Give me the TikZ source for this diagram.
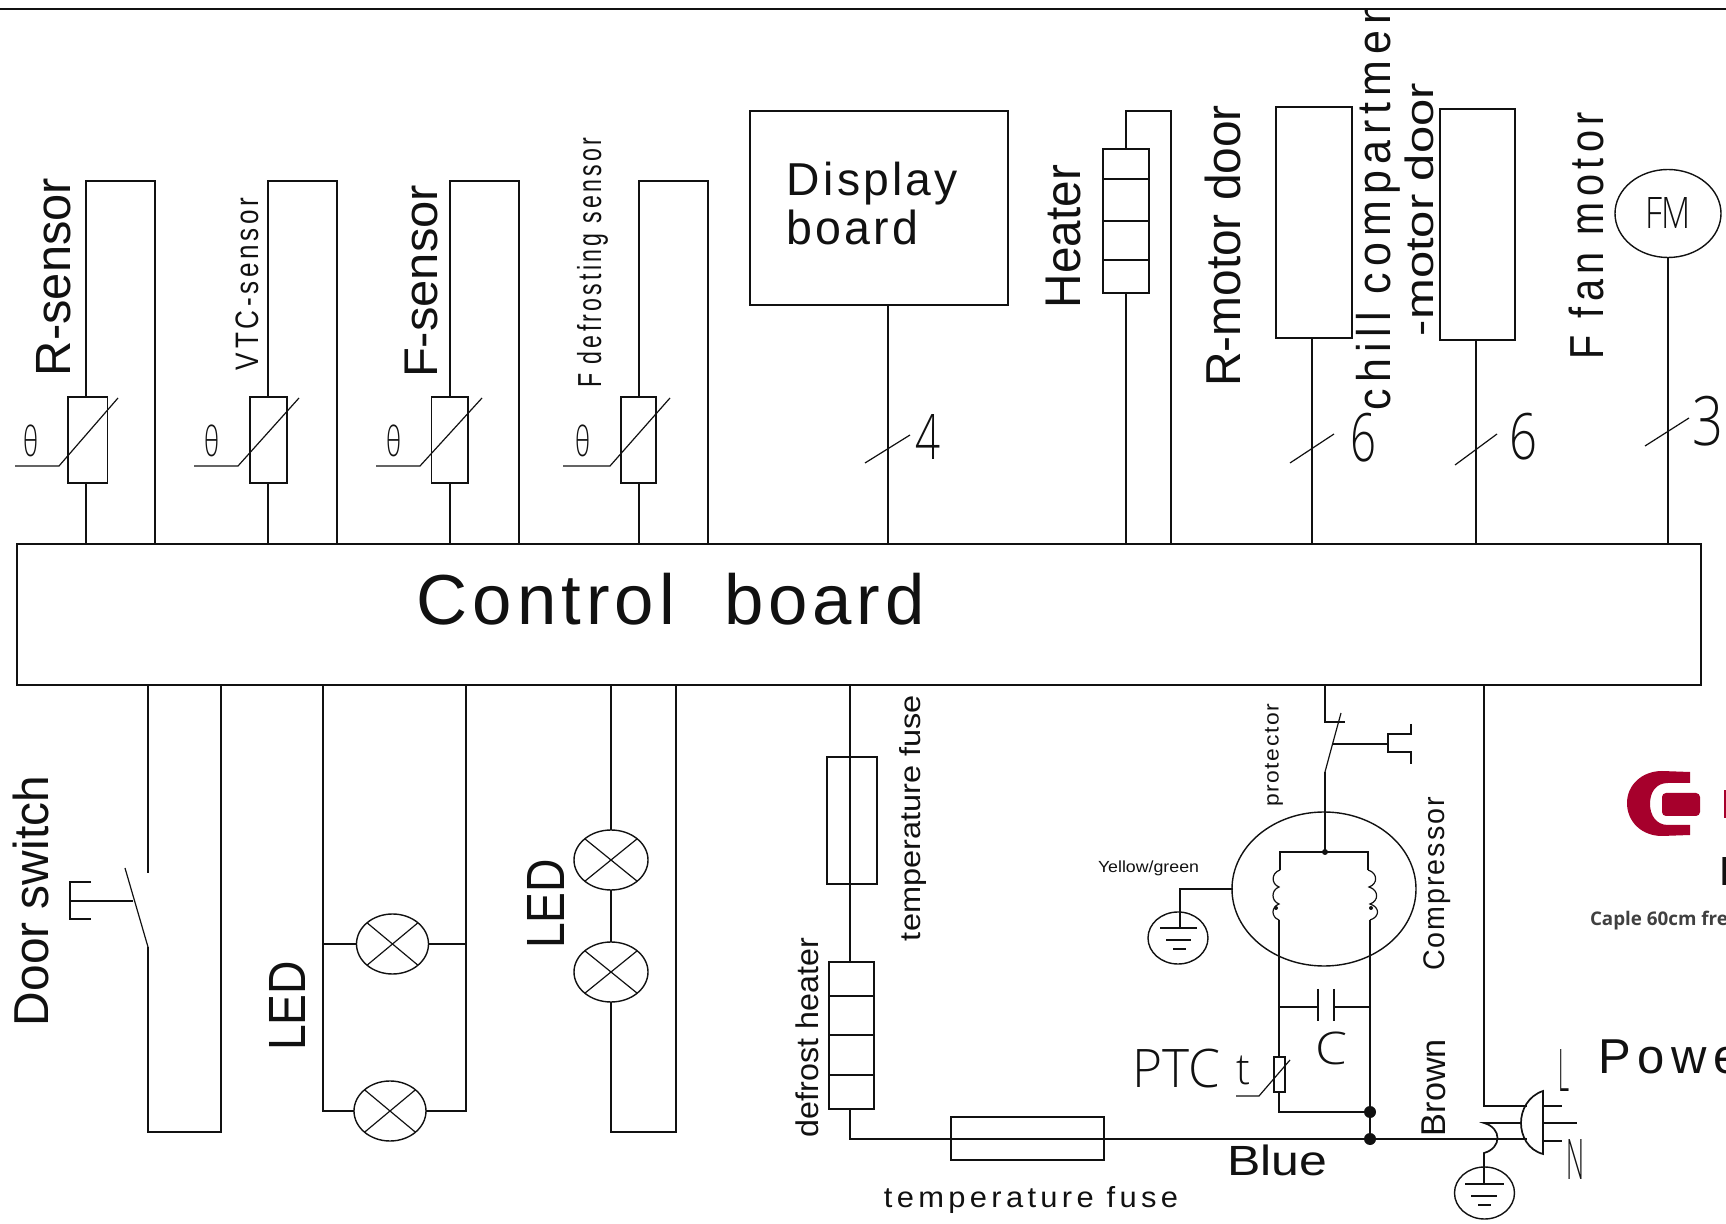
\documentclass[tikz,border=0pt]{standalone}
\usepackage{fontspec}
\usepackage{graphicx}
\usetikzlibrary{shapes.geometric}
\setmainfont{Liberation Sans}
\newfontfamily\widef[LetterSpace=14]{Liberation Sans}
\newfontfamily\medf[LetterSpace=7]{Liberation Sans}
\newfontfamily\thinf{Open Sans Light}
\newfontfamily\capf{Open Sans}
\newdimen\pxu \pxu=0.5pt
\definecolor{logored}{HTML}{A6002C}
\definecolor{ink}{HTML}{111111}
\newcommand\fit[3]{\resizebox*{#1\pxu}{#2\pxu}{#3}}
\newcommand\rectnode[5]{%
  \pgfmathsetmacro\bw{#4-#2}\pgfmathsetmacro\bh{#5-#3}%
  \pgfmathsetmacro\bx{(#2+#4)/2}\pgfmathsetmacro\by{(#3+#5)/2}%
  \node[partbox,minimum width=\bw\pxu,minimum height=\bh\pxu] (#1) at (\bx,\by) {};}
\tikzset{
  wire/.style={line width=0.85pt,draw=ink,line join=miter},
  fine/.style={line width=0.6pt,draw=ink},
  partbox/.style={draw=ink,line width=0.85pt,inner sep=0pt,outer sep=0pt,rectangle},
  lamp/.style={draw=ink,line width=0.7pt,ellipse,inner sep=0pt,outer sep=0pt,minimum width=72\pxu,minimum height=60\pxu},
  gnd/.style={draw=ink,line width=0.7pt,ellipse,inner sep=0pt,outer sep=0pt,minimum width=60\pxu,minimum height=52\pxu},
  lab/.style={inner sep=0pt,outer sep=0pt,text=ink},
  vlab/.style={lab,rotate=90},
  blob/.style={circle,fill=ink,inner sep=0pt,outer sep=0pt,minimum size=12\pxu},
}
\begin{document}
\begin{tikzpicture}[x=0.5pt,y=-0.5pt]
\useasboundingbox (0,0) rectangle (1726,1224);
\fill[white] (0,0) rectangle (1726,1224);
\begin{scope}
\clip (0,9) rectangle (1726,1224);

% control board
\rectnode{ctrl}{17}{544}{1701}{685}
\node[lab] (ctrltxt) at (671,599.5) {\fit{508}{52}{\medf Control\ \ board}};

% sensors
\foreach \n/\a/\b/\l/\r/\p/\q/\s/\tx in {
  r/86/155/68/107.5/15/59/118/31.5,
  v/268/337/250/287/194/238/299/211.5,
  f/450/519/431.5/468/376/420/482/394,
  d/639/708/621/656/563/610/670/583}{
  \rectnode{th\n}{\l}{397}{\r}{483}
  \coordinate (ta\n) at (\a,181);
  \coordinate (tb\n) at (\b,181);
  \draw[wire] (ta\n |- ctrl.north) -- (ta\n |- th\n.south);
  \draw[wire] (ta\n |- th\n.north) -- (ta\n) -- (tb\n) -- (tb\n |- ctrl.north);
  \coordinate (da\n) at (\p,466);
  \coordinate (db\n) at (\q,466);
  \coordinate (dc\n) at (\s,398);
  \draw[fine] (da\n) -- (db\n) -- (dc\n);
  \node[lab] (theta\n) at (\tx,441) {\fit{15}{32}{\thinf θ}};
}
\node[vlab] (lr) at (54,277) {\fit{198}{34.5}{R-sensor}};
\node[vlab] (lv) at (247,284) {\fit{172}{23}{\widef VTC-sensor}};
\node[vlab] (lf) at (421,281.5) {\fit{193}{33}{F-sensor}};
\node[vlab] (ld) at (592.5,263) {\fit{250}{31}{\widef F defrosting sensor}};

% display board
\rectnode{disp}{750}{111}{1008}{305}
\coordinate (dispin) at (888,305);
\draw[wire] (dispin) -- (dispin |- ctrl.north);
\node[lab] (ldisp) at (872.5,183.5) {\fit{171}{43}{\medf Display}};
\node[lab] (lboard) at (852,227.5) {\fit{132}{35}{\medf board}};
\coordinate (s4a) at (865,463); \coordinate (s4b) at (910,435);
\draw[fine] (s4a) -- (s4b);
\node[lab] (n4) at (927.5,437.5) {\fit{25}{45}{\thinf 4}};

% heater
\rectnode{heat}{1103}{149}{1149}{293}
\foreach \y in {179,221,260} \draw[wire] (heat.west |- 0,\y) -- (heat.east |- 0,\y);
\coordinate (hta) at (1126,111); \coordinate (htb) at (1171,111);
\draw[wire] (hta |- ctrl.north) -- (hta |- heat.south);
\draw[wire] (hta |- heat.north) -- (hta) -- (htb) -- (htb |- ctrl.north);
\node[vlab] (lheat) at (1063.5,236.5) {\fit{143}{35}{Heater}};

% motor door boxes
\rectnode{mr}{1276}{107}{1352}{338}
\coordinate (mrin) at (1312,338);
\draw[wire] (mrin) -- (mrin |- ctrl.north);
\coordinate (s6a) at (1290,463); \coordinate (s6b) at (1334,434);
\draw[fine] (s6a) -- (s6b);
\node[lab] (n6a) at (1363,437.5) {\fit{26}{49}{\thinf 6}};
\rectnode{mc}{1440}{109}{1515}{340}
\coordinate (mcin) at (1476,340);
\draw[wire] (mcin) -- (mcin |- ctrl.north);
\coordinate (s6c) at (1455,465); \coordinate (s6d) at (1497,434);
\draw[fine] (s6c) -- (s6d);
\node[lab] (n6b) at (1523,436.5) {\fit{28}{47}{\thinf 6}};
\node[vlab] (lrm) at (1223,246) {\fit{282}{36}{R-motor door}};
\node[vlab] (lchill) at (1378,205.5) {\fit{409}{44}{\widef chill compartmen}};
\node[vlab] (lcmd) at (1419.5,209.5) {\fit{253}{29}{-motor door}};

% fan motor
\node[draw=ink,line width=0.7pt,ellipse,inner sep=0pt,outer sep=0pt,minimum width=106\pxu,minimum height=88\pxu] (fm) at (1668,213.5) {};
\draw[wire] (fm.south) -- (fm.south |- ctrl.north);
\node[lab] (lfm) at (1668,213.5) {\fit{46}{31}{\thinf FM}};
\coordinate (s3a) at (1645,446); \coordinate (s3b) at (1689,418);
\draw[fine] (s3a) -- (s3b);
\node[lab] (n3) at (1707.5,421) {\fit{31}{50}{\thinf 3}};
\node[vlab] (lfan) at (1586.5,235.5) {\fit{247}{35}{\widef F fan motor}};

% door switch
\coordinate (ds1) at (148,873); \coordinate (ds2) at (148,947);
\coordinate (ds3) at (148,1132); \coordinate (ds4) at (221,1132);
\coordinate (ds5) at (125,868);
\coordinate (ds6) at (133,901); \coordinate (ds7) at (70,901);
\draw[wire] (ds1 |- ctrl.south) -- (ds1);
\draw[wire] (ds2) -- (ds3) -- (ds4) -- (ds4 |- ctrl.south);
\draw[fine] (ds5) -- (ds2);
\draw[fine] (ds6) -- (ds7);
\draw[fine] (91,882) -- (70,882) -- (70,919) -- (91,919);
\node[vlab] (ldoor) at (31,901) {\fit{250}{36}{Door switch}};

% LED group left
\node[lamp] (la) at (392.5,944) {};
\node[lamp] (lb) at (390,1111) {};
\foreach \m in {la,lb} {
  \draw[fine] (\m.north west) -- (\m.south east);
  \draw[fine] (\m.north east) -- (\m.south west);
}
\coordinate (lx1) at (323,685); \coordinate (lx2) at (466,685);
\draw[wire] (lx1) -- (lx1 |- lb.west) -- (lb.west);
\draw[wire] (lx2) -- (lx2 |- lb.east) -- (lb.east);
\draw[wire] (lx1 |- la.west) -- (la.west);
\draw[wire] (lx2 |- la.east) -- (la.east);
\node[vlab] (lled1) at (287,1006) {\fit{90}{36}{LED}};

% LED group right
\node[lamp,minimum width=74\pxu] (lc) at (611,860) {};
\node[lamp,minimum width=74\pxu] (ld2) at (611,972) {};
\foreach \m in {lc,ld2} {
  \draw[fine] (\m.north west) -- (\m.south east);
  \draw[fine] (\m.north east) -- (\m.south west);
}
\coordinate (rb1) at (611,1132); \coordinate (rb2) at (676,1132);
\draw[wire] (lc.north |- ctrl.south) -- (lc.north);
\draw[wire] (lc.south) -- (ld2.north);
\draw[wire] (ld2.south) -- (rb1) -- (rb2) -- (rb2 |- ctrl.south);
\node[vlab] (lled2) at (545.5,904) {\fit{90}{37}{LED}};

% defrost branch
\rectnode{tf1}{827}{757}{877}{884}
\rectnode{dh}{829}{962}{874}{1109}
\foreach \y in {996,1035,1075} \draw[wire] (dh.west |- 0,\y) -- (dh.east |- 0,\y);
\rectnode{tf2}{951}{1117}{1104}{1160}
\coordinate (dfx) at (850,1139);
\coordinate (blueend) at (1527,1139);
\draw[wire] (dfx |- ctrl.south) -- (dfx |- dh.north);
\draw[wire] (dfx |- dh.south) -- (dfx) -- (blueend);
\node[vlab] (ltf1) at (913.5,818) {\fit{246}{27}{temperature fuse}};
\node[vlab] (ldh) at (807,1037.5) {\fit{199}{23}{defrost heater}};
\node[lab] (ltf2) at (1031,1200) {\fit{294}{27}{\widef temperature fuse}};

% protector
\coordinate (pa) at (1325,722);
\coordinate (pb) at (1345,722);
\coordinate (pc) at (1341,713);
\coordinate (pd) at (1332,746);
\coordinate (pe) at (1325,772);
\coordinate (pf) at (1325,852);
\draw[wire] (pa |- ctrl.south) -- (pa) -- (pb);
\draw[fine] (pc) -- (pd) -- (pe);
\draw[wire] (pe) -- (pf);
\coordinate (pg) at (1333,744); \coordinate (ph) at (1388,744);
\draw[wire] (pg) -- (ph);
\draw[wire] (1411,724) -- (1411,734) -- (1388,734) -- (1388,752) -- (1411,752) -- (1411,764);
\node[vlab] (lprot) at (1274,755.5) {\fit{103}{18}{\medf protector}};

% compressor
\node[draw=ink,line width=0.7pt,ellipse,inner sep=0pt,outer sep=0pt,minimum width=184\pxu,minimum height=154\pxu] (comp) at (1324,889) {};
\node[blob,minimum size=6\pxu] (jt) at (pf) {};
\coordinate (cla) at (1280,852); \coordinate (clb) at (1280,870);
\coordinate (cra) at (1368,852); \coordinate (crb) at (1368,870);
\draw[wire] (clb) -- (cla) -- (cra) -- (crb);
\draw[fine] (clb) .. controls (1271,873) and (1271,884) .. (1279,887)
  .. controls (1271,890) and (1271,901) .. (1279,904)
  .. controls (1271,907) and (1271,917) .. (1279,920);
\draw[fine] (crb) .. controls (1378,873) and (1378,884) .. (1369,887)
  .. controls (1379,890) and (1379,901) .. (1370,904)
  .. controls (1380,907) and (1380,917) .. (1370,920);
\node[circle,fill=ink,inner sep=0pt,minimum size=4\pxu] (cdl) at (1276,908) {};
\node[circle,fill=ink,inner sep=0pt,minimum size=4\pxu] (cdr) at (1371,908) {};
\node[vlab] (lcomp) at (1437.5,884) {\fit{174}{27}{\medf Compressor}};

% PTC, capacitor
\rectnode{ptc}{1274}{1057}{1285}{1092}
\coordinate (cw1) at (1279,920); \coordinate (cw2) at (1370,920);
\node[blob] (j1) at (1370,1112) {};
\node[blob] (j2) at (1370,1139) {};
\draw[wire] (cw1) -- (cw1 |- ptc.north);
\draw[wire] (cw1 |- ptc.south) -- (cw1 |- j1) -- (j1);
\draw[wire] (cw2) -- (j2);
\coordinate (ca) at (1318,1007); \coordinate (cb) at (1334,1007);
\draw[wire] (cw1 |- ca) -- (ca);
\draw[wire] (cb) -- (cw2 |- cb);
\draw[wire] (1318,989) -- (1318,1021);
\draw[wire] (1334,989) -- (1334,1021);
\coordinate (pt1) at (1236,1096); \coordinate (pt2) at (1259,1096); \coordinate (pt3) at (1290,1060);
\draw[fine] (pt1) -- (pt2) -- (pt3);
\node[lab] (lptc) at (1176,1068.5) {\fit{88}{39}{\addfontfeature{LetterSpace=14}\thinf PTC}};
\node[lab] (lt) at (1243,1070.5) {\fit{14}{29}{\thinf t}};
\node[lab] (lc2) at (1331,1048.5) {\fit{32}{33}{\thinf C}};
\node[lab] (lblue) at (1277,1160) {\fit{100}{31}{Blue}};
\node[vlab] (lbrown) at (1433.5,1087.5) {\fit{97}{24}{Brown}};

% ground 1
\node[gnd] (g1) at (1178,938) {};
\coordinate (gw1) at (1233,889); \coordinate (gw2) at (1180,889); \coordinate (gw3) at (1180,928);
\draw[wire] (gw1) -- (gw2) -- (gw3);
\draw[wire] (1160,928) -- (1197,928);
\draw[wire] (1166,940) -- (1191,940);
\draw[wire] (1173,949) -- (1186,949);
\node[lab] (lyg) at (1148.5,868.5) {\fit{101}{15}{Yellow/green}};

% mains plug and wires
\coordinate (bw1) at (1484,685); \coordinate (bw2) at (1484,1106); \coordinate (bw3) at (1527,1106);
\draw[wire] (bw1) -- (bw2) -- (bw3);
\draw[wire] (1543,1091) .. controls (1528,1096) and (1521,1110) .. (1521,1123)
  .. controls (1521,1136) and (1528,1150) .. (1543,1154) -- cycle;
\draw[wire] (1543,1106) -- (1562,1106);
\draw[wire] (1543,1123) -- (1577,1123);
\draw[wire] (1543,1141) -- (1562,1141);
\node[gnd] (g2) at (1484.5,1193) {};
\coordinate (ge1) at (1484,1123); \coordinate (ge2) at (1521,1123);
\coordinate (ge3) at (1484,1153); \coordinate (ge4) at (1484,1184);
\draw[wire] (ge2) -- (ge1) .. controls (1502,1128) and (1502,1148) .. (ge3) -- (ge4);
\draw[wire] (1465,1184) -- (1504,1184);
\draw[wire] (1471,1196) -- (1497,1196);
\draw[wire] (1478,1205) -- (1491,1205);
\node[lab] (lL) at (1563.5,1070) {\fit{11}{42}{\thinf L}};
\node[lab] (lN) at (1575,1159) {\fit{18}{40}{\thinf N}};

% logo and fragments at the right edge
\fill[logored] (1690,772) -- (1662,771) .. controls (1642,771) and (1627,785) .. (1627,803)
  .. controls (1627,822) and (1642,836) .. (1662,836) -- (1690,835) -- (1690,825) -- (1668,825)
  .. controls (1656,825) and (1650,815) .. (1650,804) .. controls (1650,792) and (1656,783) .. (1668,783) -- (1690,783) -- cycle;
\fill[logored,rounded corners=2pt] (1662,793) rectangle (1700,816);
\fill[logored] (1724,790) rectangle (1726,818);
\node[lab,anchor=base west] (lfr) at (1720,885) {\fit{22}{28}{\bfseries F}};
\node[lab,anchor=base west,text=black!75] (lcap) at (1590,926) {\capf\bfseries\fontsize{9.4}{11}\selectfont Caple 60cm fre};
\node[lab,anchor=base west] (lpow) at (1598,1073) {\fontsize{24.5}{28}\selectfont\widef Power};
\end{scope}

% frame line at the top
\coordinate (topa) at (0,9); \coordinate (topb) at (1726,9);
\draw[wire] (topa) -- (topb);
\end{tikzpicture}
\end{document}
